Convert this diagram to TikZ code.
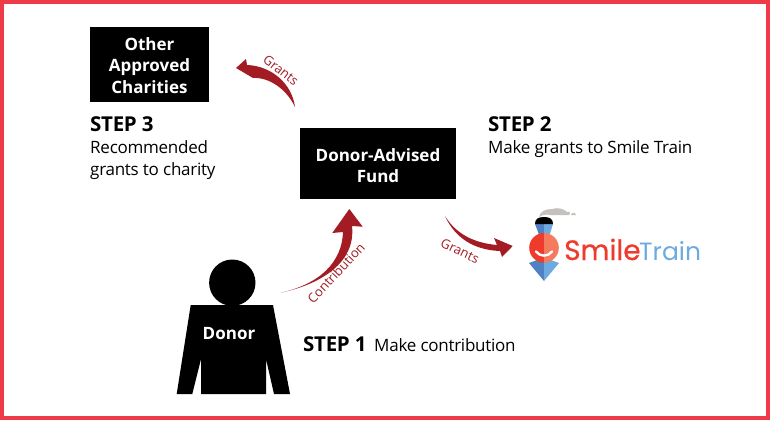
\documentclass[tikz,border=0pt]{standalone}
\usepackage{fontspec}
\setmainfont{Open Sans}
\newfontfamily\logofont{Poppins}
\definecolor{frame}{HTML}{EE3B47}
\definecolor{arrowred}{HTML}{A31C24}
\definecolor{smred}{HTML}{EE3B2C}
\definecolor{smorange}{HTML}{F47B5C}
\definecolor{smblue}{HTML}{4F81C3}
\definecolor{smlight}{HTML}{6DAAE0}
\definecolor{smoke}{HTML}{C4C1BE}
\tikzset{
  blackbox/.style={fill=black,draw=none,text=white,font=\fontsize{17}{21.5}\selectfont\bfseries,align=center,inner sep=0pt},
  stephead/.style={anchor=base west,inner sep=0pt,font=\fontsize{20.5}{23}\selectfont\bfseries\addfontfeature{LetterSpace=-1.5}},
  stepbody/.style={anchor=north west,inner sep=0pt,align=left,font=\fontsize{17}{22}\selectfont\addfontfeature{LetterSpace=-1.5}},
  arrowlabel/.style={text=arrowred,inner sep=0pt,font=\fontsize{13}{15}\selectfont},
}
\begin{document}
\begin{tikzpicture}[x=1pt,y=-1pt]
\useasboundingbox (0,0) rectangle (770,420);
\fill[white] (0,0) rectangle (770,420);
\draw[frame,line width=4pt] (2,2) rectangle (768,418);

% boxes
\fill[black] (90,27) rectangle (209,102);
\fill[black] (300,128) rectangle (456,199);
\node[blackbox,fill=none] (other) at (149.5,65.5) {Other\\Approved\\Charities};
\node[blackbox,fill=none] (fund) at (378,165.5) {Donor-Advised\\Fund};

% donor
\fill[black] (232.3,282.7) circle (23.2);
\fill[black] (190.7,305) -- (273,305) -- (290,394) -- (274,394) -- (266,359) -- (266,394) -- (201,394) -- (201,359) -- (192.3,394) -- (176.7,394) -- cycle;
\node[inner sep=0pt,text=white,font=\fontsize{17}{18}\selectfont\bfseries] (donor) at (229,333.5) {Donor};

% arrows
\fill[arrowred] (280.7,292.7) .. controls (320,284) and (342,262) .. (343,232)
  -- (332.3,233) -- (349.3,209) -- (362.7,226.7) -- (352,226)
  .. controls (356,262) and (322,284) .. (280.7,292.7) -- cycle;
\fill[arrowred] (295,107) .. controls (286,88) and (268,77) .. (253,78)
  -- (236,68) -- (246,59) -- (247,65)
  .. controls (272,66) and (292,84) .. (295,107) -- cycle;
\fill[arrowred] (445,216) .. controls (456,234) and (474,243) .. (497,245)
  -- (494,238) -- (512.7,246) -- (502,257) -- (500,251)
  .. controls (474,250) and (455,238) .. (445,216) -- cycle;

% arrow labels
\node[arrowlabel,rotate=-38] (g1) at (281,70) {Grants};
\node[arrowlabel,rotate=-25] (g2) at (460,251) {Grants};
\node[arrowlabel,rotate=47] (c1) at (336,273) {Contribution};

% steps
\node[stephead] (s3) at (90,131) {STEP 3};
\node[stepbody] (s3b) at (90,140) {Recommended\\grants to charity};
\node[stephead] (s2) at (488,131) {STEP 2};
\node[stepbody] (s2b) at (488,140) {Make grants to Smile Train};
\node[stephead] (s1) at (303,351) {STEP 1};
\node[stepbody,anchor=base west] (s1b) at (374,351) {Make contribution};

% logo
\fill[smoke] (539,217) .. controls (540,211) and (546,209) .. (552,209) .. controls (558,207) and (564,209) .. (567,212) .. controls (570,211) and (571,213) .. (569,215) -- (551,215) .. controls (546,214) and (542,215) .. (539,217) -- cycle;
\fill[smoke] (571,215) .. controls (572,212) and (575,212) .. (576,215) -- cycle;
\fill[smblue] (535,224) -- (544,224) -- (544,240) -- (541,240) -- cycle;
\fill[smlight] (544,224) -- (553,224) -- (548,240) -- (544,240) -- cycle;
\fill[black] (535,224) .. controls (535,219) and (538,217) .. (544,217) .. controls (550,217) and (553,219) .. (553,224) -- cycle;
\fill[smblue] (544,256) -- (540,256) -- (540,259) -- (529,263) -- (544,281) -- cycle;
\fill[smlight] (544,256) -- (548,256) -- (548,259) -- (559,263) -- (544,281) -- cycle;
\fill[smred] (544,262.6) arc (90:270:14.8) -- cycle;
\fill[smorange] (544,262.6) arc (90:-90:14.8) -- cycle;
\draw[white,line width=2.4pt,line cap=round] (536,251.5) .. controls (540,257) and (548,257) .. (552,251.5);
\node[anchor=base west,inner sep=0pt,text=smred,font=\logofont\fontsize{28}{30}\selectfont\addfontfeature{FakeBold=0.6}] (sm) at (564,260) {Smile};
\node[anchor=base west,inner sep=0pt,text=smlight,font=\logofont\fontsize{25}{30}\selectfont] (tr) at (639,260) {Train};
\end{tikzpicture}
\end{document}
